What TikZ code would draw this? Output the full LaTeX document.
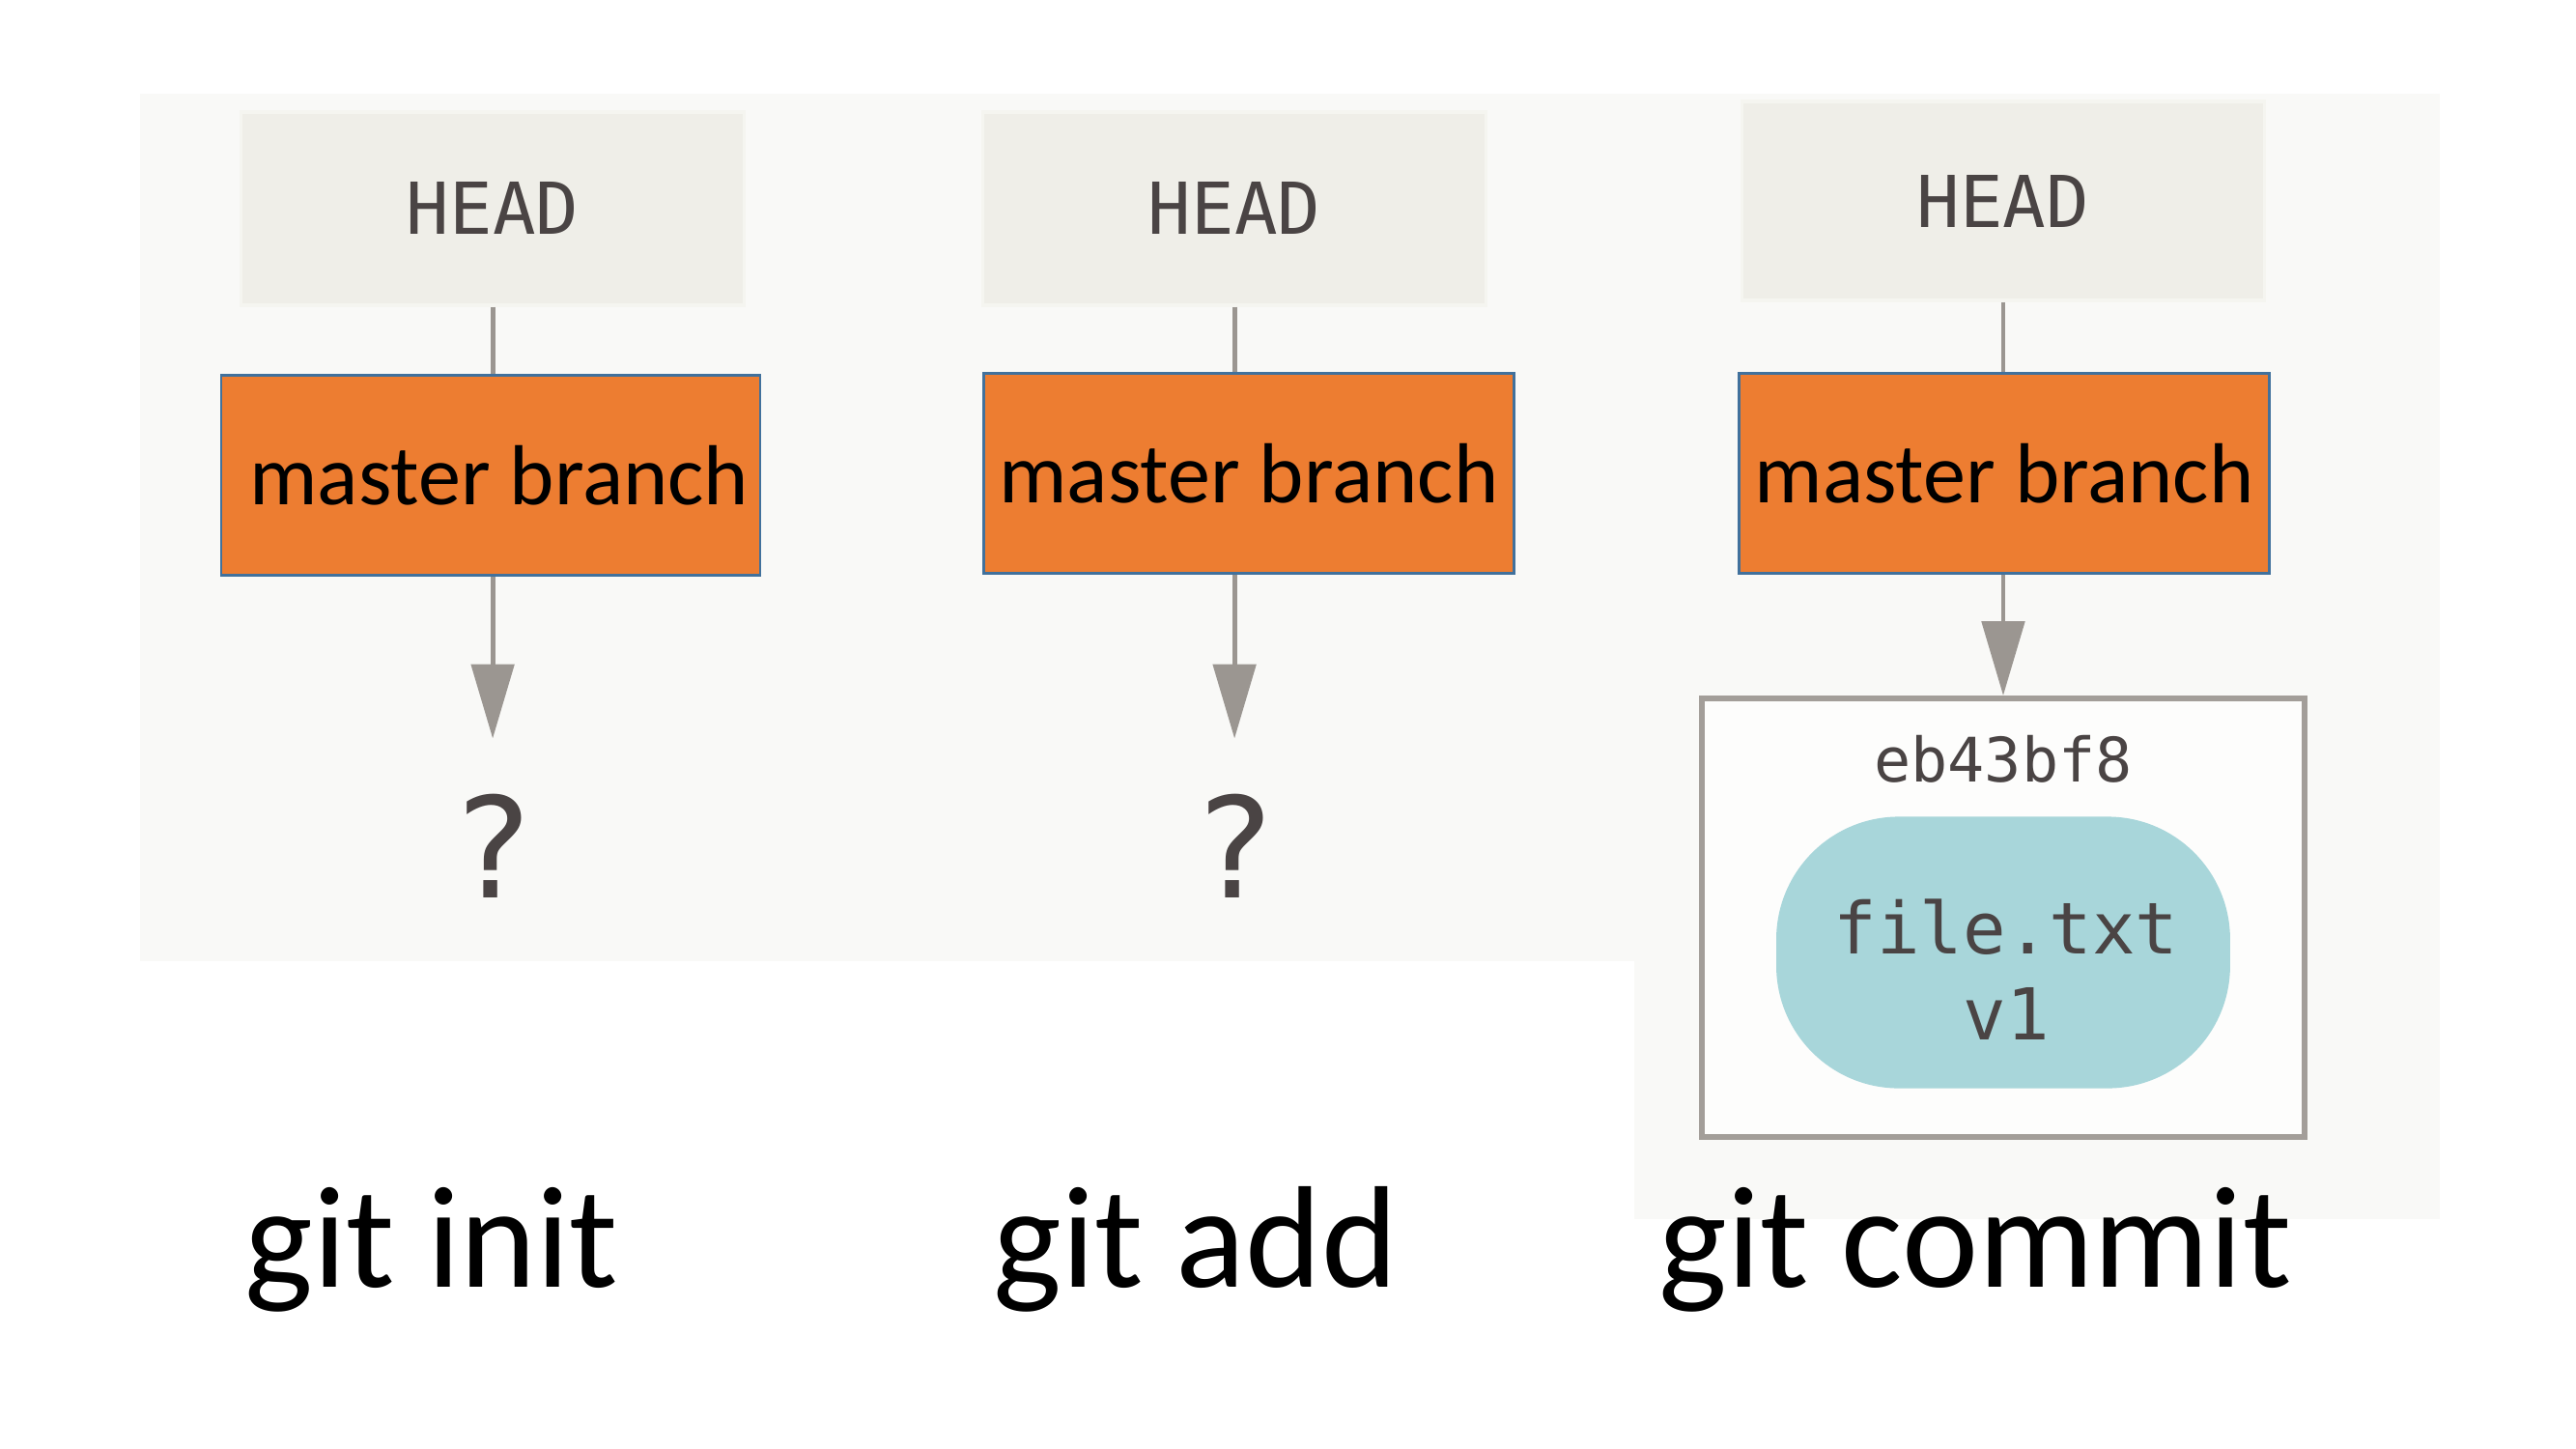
\documentclass[tikz,border=0pt]{standalone}
\usepackage{fontspec}
\usepackage{tikz}
\usetikzlibrary{arrows.meta}
\setmainfont{Carlito}
\newfontfamily\gitmono{DejaVu Sans Mono}
\definecolor{panel}{HTML}{F9F9F7}
\definecolor{headfill}{HTML}{EFEEE8}
\definecolor{headline}{HTML}{F5F5F0}
\definecolor{branch}{HTML}{ED7D31}
\definecolor{branchline}{HTML}{41719C}
\definecolor{linkgray}{HTML}{9B9691}
\definecolor{commitline}{HTML}{A39E99}
\definecolor{commitfill}{HTML}{FDFDFC}
\definecolor{blobfill}{HTML}{A8D6DA}
\definecolor{ink}{HTML}{4A4444}

\begin{document}
\begin{tikzpicture}[
  headbox/.style={rectangle, fill=headfill, draw=headline, line width=1pt, minimum width=147.7pt, minimum height=56.7pt, font=\gitmono\fontsize{21}{25}\selectfont, text=ink},
  branchbox/.style={rectangle, fill=branch, draw=branchline, line width=0.8pt, minimum width=155.6pt, minimum height=58.7pt, font=\fontsize{25}{30}\selectfont, text=black},
  unknown/.style={inner sep=0pt, minimum height=62.8pt, font=\gitmono\fontsize{41}{49}\selectfont, text=ink},
  commitbox/.style={rectangle, fill=commitfill, draw=commitline, line width=1.7pt, minimum width=176.9pt, minimum height=128.7pt},
  blob/.style={rectangle, rounded corners=36pt, fill=blobfill, minimum width=133.2pt, minimum height=79.7pt},
  blobtext/.style={align=center, font=\gitmono\fontsize{21}{25.2}\selectfont, text=ink},
  hash/.style={font=\gitmono\fontsize{18}{22}\selectfont, text=ink},
  cmd/.style={anchor=base, font=\fontsize{42.5}{51}\selectfont, text=black},
  link/.style={line width=1.4pt, color=linkgray},
  pointer/.style={line width=1.4pt, color=linkgray, -{Triangle[width=12.5pt, length=21.8pt]}}]
\useasboundingbox (0pt, 0pt) rectangle (756.0pt, -425.2pt);
\fill [color=white] (0pt, 0pt) rectangle (756.0pt, -425.2pt);
\fill [color=panel] (41.1pt, -27.5pt) rectangle (479.6pt, -282.1pt);
\fill [color=panel] (479.6pt, -27.5pt) rectangle (716.0pt, -357.7pt);
\node (h1) [headbox] at (144.6pt, -61.2pt) {HEAD};
\node (h2) [headbox] at (362.3pt, -61.2pt) {HEAD};
\node (h3) [headbox, minimum width=153.4pt, minimum height=58.4pt] at (587.9pt, -59.0pt) {HEAD};
\node (m1) [branchbox] at (144.0pt, -139.5pt) {\hspace{5pt}master branch};
\node (m2) [branchbox] at (366.5pt, -138.9pt) {master branch};
\node (m3) [branchbox] at (588.2pt, -138.9pt) {master branch};
\node (q1) [unknown] at (144.6pt, -248.3pt) {?};
\node (q2) [unknown] at (362.3pt, -248.3pt) {?};
\node (c3) [commitbox] at (587.9pt, -269.3pt) {};
\node (id3) [hash] at (587.9pt, -222.8pt) {eb43bf8};
\node (f3) [blob] at (587.9pt, -279.5pt) {};
\node (t3) [blobtext] at (588.8pt, -284.6pt) {file.txt\\v1};
\node (l1) [cmd] at (126.7pt, -377.6pt) {git init};
\node (l2) [cmd] at (350.9pt, -377.6pt) {git add};
\node (l3) [cmd] at (579.7pt, -377.6pt) {git commit};
\draw [link] (h1.south) to (h1.south |- m1.north);
\draw [link] (h2.south) to (h2.south |- m2.north);
\draw [link] (h3.south) to (h3.south |- m3.north);
\draw [pointer] (h1.south |- m1.south) to (q1.north);
\draw [pointer] (h2.south |- m2.south) to (q2.north);
\draw [pointer] (h3.south |- m3.south) to (c3.north);
\end{tikzpicture}
\end{document}
